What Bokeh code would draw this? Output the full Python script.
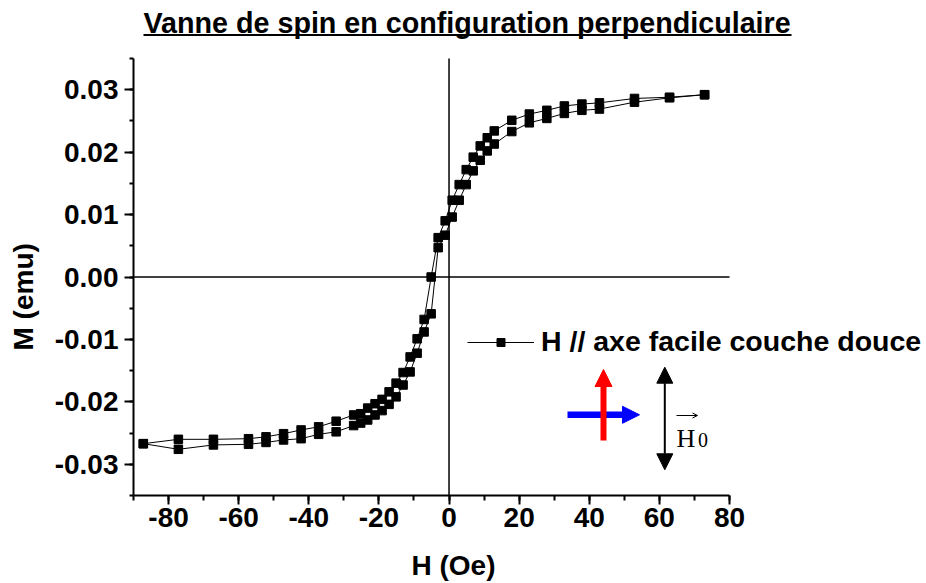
from bokeh.plotting import figure
from bokeh.models import (Arrow, NormalHead, OpenHead, Label, Legend,
                          LegendItem, FixedTicker, Range1d, Title, LinearAxis)
from bokeh.embed import file_html
from bokeh.resources import INLINE

# ---- data ----
H_down = [72.9, 62.9, 52.9, 42.9, 37.9, 32.9, 27.9, 22.9, 17.9, 12.9, 10.9, 8.9,
          6.9, 4.9, 2.9, 0.9, -1.1, -3.1, -5.1, -7.1, -9.1, -11.1, -13.1, -15.1,
          -17.1, -19.1, -21.1, -23.2, -25.2, -27.2, -32.2, -37.2, -42.2, -47.2,
          -52.2, -57.2, -67.2, -77.2, -87.2]
M_down = [0.0292, 0.0288, 0.0286, 0.0279, 0.0277, 0.0274, 0.0267, 0.0261, 0.0251,
          0.0234, 0.0223, 0.0210, 0.0192, 0.0172, 0.0148, 0.0123, 0.0090, 0.0063,
          0.0000, -0.0068, -0.0099, -0.0128, -0.0153, -0.0170, -0.0184, -0.0196,
          -0.0203, -0.0210, -0.0219, -0.0221, -0.0231, -0.0240, -0.0245, -0.0251,
          -0.0256, -0.0259, -0.0260, -0.0260, -0.0267]
H_up = [-87.2, -77.2, -67.2, -57.2, -52.2, -47.2, -42.2, -37.2, -32.2, -27.2,
        -25.2, -23.2, -21.1, -19.1, -17.1, -15.1, -13.1, -11.1, -9.1, -7.1, -5.1,
        -3.1, -1.1, 0.9, 2.9, 4.9, 6.9, 8.9, 10.9, 12.9, 17.9, 22.9, 27.9, 32.9,
        37.9, 42.9, 52.9, 62.9, 72.9]
M_up = [-0.0267, -0.0276, -0.0269, -0.0268, -0.0265, -0.0261, -0.0259, -0.0252,
        -0.0248, -0.0238, -0.0234, -0.0229, -0.0221, -0.0214, -0.0204, -0.0192,
        -0.0173, -0.0152, -0.0122, -0.0088, -0.0059, 0.0047, 0.0067, 0.0096,
        0.0123, 0.0148, 0.0170, 0.0187, 0.0202, 0.0213, 0.0233, 0.0247, 0.0254,
        0.0262, 0.0267, 0.0269, 0.0280, 0.0287, 0.0292]

x_ticks = [-80, -60, -40, -20, 0, 20, 40, 60, 80]
x_tick_labels = ["-80", "-60", "-40", "-20", "0", "20", "40", "60", "80"]
x_minor = [-90, -70, -50, -30, -10, 10, 30, 50, 70]
y_ticks = [-0.03, -0.02, -0.01, 0.0, 0.01, 0.02, 0.03]
y_tick_labels = ["-0.03", "-0.02", "-0.01", "0.00", "0.01", "0.02", "0.03"]
y_minor = [-0.035, -0.025, -0.015, -0.005, 0.005, 0.015, 0.025, 0.035]
x_axis = (-90, 80)
y_axis = (-0.035, 0.035)

title_text = "Vanne de spin en configuration perpendiculaire"
x_label = "H (Oe)"
y_label = "M (emu)"
legend_label = "H // axe facile couche douce"

FONT = "Liberation Sans"

# ---- layout (pixels) ----
W, H = 926, 583
AX_L, AX_R, AX_T, AX_B = 133, 729, 58, 495   # where the axes are drawn
sx = (AX_R - AX_L) / (x_axis[1] - x_axis[0])
sy = (AX_B - AX_T) / (y_axis[1] - y_axis[0])


def hx(px):
    return x_axis[0] + (px - AX_L) / sx


def my(py):
    return y_axis[0] + (AX_B - py) / sy


p = figure(width=W, height=H, x_range=Range1d(x_axis[0], hx(W)),
           y_range=Range1d(y_axis[0], my(0)), output_backend="svg",
           toolbar_location=None, min_border_left=AX_L, min_border_right=0,
           min_border_top=0, min_border_bottom=H - AX_B)
p.xgrid.visible = False
p.ygrid.visible = False
p.outline_line_color = None

# axes
for ax in (p.xaxis[0], p.yaxis[0]):
    ax.axis_line_width = 2
    ax.major_tick_line_width = 2
    ax.minor_tick_line_width = 2
    ax.major_tick_in = 0
    ax.minor_tick_in = 0
    ax.major_label_text_font = FONT
    ax.major_label_text_font_style = "bold"
    ax.major_label_text_font_size = "28px"
    ax.major_label_text_color = "black"

p.xaxis.bounds = x_axis
p.xaxis.ticker = FixedTicker(ticks=x_ticks, minor_ticks=x_minor + x_ticks)
p.xaxis.major_label_overrides = dict(zip(x_ticks, x_tick_labels))
p.xaxis.major_tick_out = 9
p.xaxis.minor_tick_out = 5
p.xaxis.major_label_standoff = 3

p.yaxis.bounds = y_axis
p.yaxis.ticker = FixedTicker(ticks=y_ticks, minor_ticks=y_minor + y_ticks)
p.yaxis.major_label_overrides = dict(zip(y_ticks, y_tick_labels))
p.yaxis.major_tick_out = 9
p.yaxis.minor_tick_out = 4
p.yaxis.major_label_standoff = 6


def spacer(gap):
    # an invisible axis whose (hidden) tick length reserves `gap` pixels
    return LinearAxis(ticker=FixedTicker(ticks=[0]), major_label_overrides={0: ""},
                      major_label_text_font_size="0px", major_tick_out=gap,
                      major_tick_in=0, minor_tick_out=0, minor_tick_in=0,
                      major_label_standoff=0, axis_line_color=None,
                      major_tick_line_color=None, minor_tick_line_color=None)


# axis titles
p.add_layout(spacer(18), "below")
p.add_layout(Title(text=x_label, align="left", offset=411 - AX_L,
                   vertical_align="bottom", standoff=0, text_font=FONT,
                   text_font_size="28px", text_font_style="bold",
                   text_color="black"), "below")
p.add_layout(spacer(8), "left")
p.add_layout(Title(text=y_label, align="left", offset=AX_B - 350,
                   vertical_align="bottom", standoff=10, text_font=FONT,
                   text_font_size="28px", text_font_style="bold",
                   text_color="black"), "left")

# zero lines
p.segment(x0=[0, x_axis[0]], y0=[y_axis[0], 0], x1=[0, x_axis[1]],
          y1=[y_axis[1], 0], line_color="black", line_width=1.5)

# hysteresis loop
loop_H = H_down + H_up[1:]
loop_M = M_down + M_up[1:]
line_r = p.line(loop_H, loop_M, line_color="black", line_width=1)
sq_r = p.scatter(H_down + H_up, M_down + M_up, marker="square", size=8.5,
                 fill_color="black", line_color="black")

legend = Legend(items=[LegendItem(label=legend_label, renderers=[line_r, sq_r])],
                location=(467 - AX_L, 137), padding=0, margin=0, glyph_width=67,
                glyph_height=20, label_standoff=7, label_text_font=FONT,
                label_text_font_size="28.5px", label_text_font_style="bold",
                label_text_color="black",
                border_line_alpha=0, background_fill_alpha=0)
p.add_layout(legend)

# title + underline (Label's alphabetic baseline sits ~0.31 em lower)
p.add_layout(Label(x=hx(143), y=my(31.7 - 0.31 * 28.7), text=title_text,
                   text_font=FONT, text_font_size="28.7px",
                   text_font_style="bold", text_baseline="alphabetic",
                   text_color="black"))
p.segment(x0=[hx(143)], y0=[my(34.5)], x1=[hx(791)], y1=[my(34.5)],
          line_color="black", line_width=2)

# configuration arrows
p.add_layout(Arrow(end=NormalHead(size=17, fill_color="blue", line_color="blue"),
                   x_start=hx(567), y_start=my(414.3), x_end=hx(639),
                   y_end=my(414.3), line_color="blue", line_width=6.5))
p.add_layout(Arrow(end=NormalHead(size=17, fill_color="red", line_color="red"),
                   x_start=hx(603), y_start=my(440), x_end=hx(603),
                   y_end=my(369), line_color="red", line_width=6))
p.add_layout(Arrow(start=NormalHead(size=16, fill_color="black", line_color="black"),
                   end=NormalHead(size=16, fill_color="black", line_color="black"),
                   x_start=hx(664.3), y_start=my(469.3), x_end=hx(664.3),
                   y_end=my(366.7), line_color="black", line_width=2))
# H0 vector label
p.add_layout(Arrow(end=OpenHead(size=5, line_width=1, line_color="black"),
                   x_start=hx(676), y_start=my(415), x_end=hx(697),
                   y_end=my(415), line_color="black", line_width=1))
p.add_layout(Label(x=hx(676), y=my(446 - 0.31 * 26), text="H",
                   text_font="Liberation Serif", text_font_size="26px",
                   text_baseline="alphabetic", text_color="black"))
p.add_layout(Label(x=hx(697.5), y=my(446 - 0.31 * 20), text="0",
                   text_font="Liberation Serif", text_font_size="20px",
                   text_baseline="alphabetic", text_color="black"))

open("out.html", "w").write(file_html(p, INLINE))
